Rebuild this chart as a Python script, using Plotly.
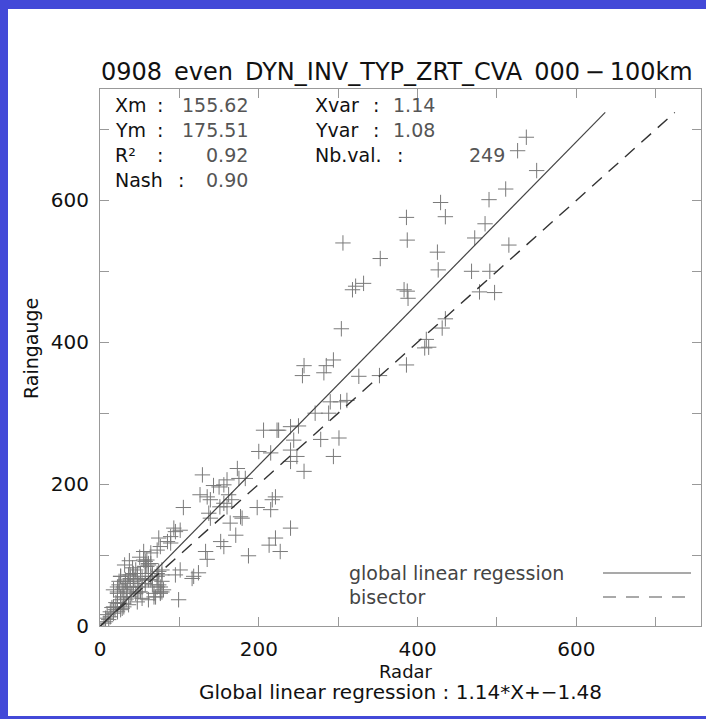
import plotly.graph_objects as go

# ---- data ----
radar = [537, 526, 550, 511, 490, 429, 435, 386, 485, 306, 387, 472, 425, 515, 353,
         426, 468, 491, 318, 322, 332, 383, 387, 388, 478, 497, 304, 435, 431, 411,
         409, 414, 386, 257, 255, 285, 282, 294, 326, 352,
         290, 303, 288, 311, 271, 301, 278, 294, 257, 248, 240, 240, 244, 240, 250,
         225, 223, 206, 200, 215, 217, 221, 215, 198, 240, 221, 213, 227, 187, 173,
         175, 183, 160, 156, 150, 143, 129, 162, 166, 156, 151, 160, 137, 139, 126,
         135, 139, 105, 171, 164, 177, 179, 152, 156, 133, 135, 124, 118, 116, 101,
         95, 99, 93, 101, 95, 89, 85, 89, 74, 76, 72, 78, 78, 72, 76, 64, 59, 61,
         57, 55, 68, 26, 24, 22, 22, 30, 34, 38, 42, 32, 47, 51, 45, 38, 30, 26, 22,
         17, 13, 9, 7, 17, 19, 30, 28, 45, 51, 47, 42, 36, 38, 66, 61, 53, 78, 74,
         64, 59, 57, 64, 66, 72, 74, 80, 76, 70, 61, 53, 47, 36, 30, 26, 22, 13, 11,
         7, 5, 40, 49, 53, 57, 26, 32, 38, 17, 22, 26, 34, 42, 49, 57, 66, 72, 76,
         78, 68, 64, 57, 61, 55, 47, 35, 28, 44, 20, 15, 33, 41, 50, 24, 31, 37]
gauge = [689, 670, 642, 616, 601, 597, 577, 576, 567, 540, 544, 547, 527, 537, 518,
         502, 500, 500, 474, 479, 483, 474, 472, 462, 471, 470, 419, 433, 420, 404,
         392, 393, 368, 367, 353, 367, 357, 375, 352, 353,
         316, 316, 300, 318, 300, 265, 263, 239, 218, 239, 232, 248, 262, 281, 282,
         276, 276, 276, 246, 244, 178, 182, 164, 167, 138, 124, 114, 105, 99, 222,
         208, 208, 206, 199, 196, 198, 213, 185, 178, 173, 168, 168, 159, 152, 185,
         182, 178, 167, 128, 145, 154, 152, 119, 112, 105, 94, 75, 70, 67, 79,
         72, 37, 138, 135, 133, 117, 119, 126, 124, 112, 107, 79, 72, 55, 48, 103, 93, 86,
         84, 105, 41, 70, 63, 55, 48, 55, 51, 55, 63, 63, 55, 48, 46, 41, 41, 37, 32,
         27, 20, 16, 11, 18, 23, 32, 25, 79, 74, 70, 74, 72, 67, 58, 65, 67, 63, 58,
         70, 84, 91, 88, 74, 70, 77, 51, 46, 41, 37, 39, 34, 30, 27, 23, 20, 13, 9,
         6, 4, 46, 48, 55, 60, 70, 65, 72, 51, 46, 41, 48, 55, 60, 65, 70, 74, 55,
         48, 46, 65, 84, 88, 93, 74, 60, 52, 66, 33, 26, 38, 82, 97, 58, 86, 92]

slope = 1.14
intercept = -1.48
data_max = 724
axis_max = 757
tick_vals = [0, 200, 400, 600]

stats_left = [("Xm", "155.62"), ("Ym", "175.51"), ("R²", "0.92"), ("Nash", "0.90")]
stats_right = [("Xvar", "1.14"), ("Yvar", "1.08"), ("Nb.val.", "249")]

title_text = "0908\u2002even\u2002DYN_INV_TYP_ZRT_CVA\u2002000\u2009\u2212\u2009100km"
xlabel = "Radar"
ylabel = "Raingauge"
subtitle = "Global linear regression : 1.14*X+\u22121.48"
legend_labels = ["global linear regession", "bisector"]

# ---- layout geometry ----
W, H = 706, 719
L, R, T, B = 100, 5, 89, 93
PW, PH = W - L - R, H - T - B


def px(xp):
    return (xp - L) / PW


def py(yp):
    return (T + PH - yp) / PH


FONT = "DejaVu Sans"
GRAY = "#7a7a7a"
AX = "#999999"

fig = go.Figure()

fig.add_trace(go.Scatter(
    x=radar, y=gauge, mode="markers",
    marker=dict(symbol="cross-thin", size=11, line=dict(width=1, color=GRAY), color=GRAY),
    showlegend=False, hoverinfo="skip"))

reg_xend = (data_max - intercept) / slope
fig.add_trace(go.Scatter(
    x=[0, reg_xend], y=[intercept, slope * reg_xend + intercept], mode="lines",
    line=dict(color="#444444", width=1.2), showlegend=False, hoverinfo="skip"))
fig.add_trace(go.Scatter(
    x=[0, data_max], y=[0, data_max], mode="lines",
    line=dict(color="#333333", width=1.4, dash="13px,9px"), showlegend=False, hoverinfo="skip"))

axis_common = dict(
    range=[0, axis_max], tickvals=tick_vals, ticks="inside", ticklen=9, tickwidth=1,
    tickcolor=AX, showline=True, linecolor=AX, linewidth=1, mirror="ticks",
    showgrid=False, zeroline=False,
    minor=dict(dtick=100, tick0=0, ticks="inside", ticklen=9, tickcolor=AX, showgrid=False),
    tickfont=dict(family=FONT, size=20, color="#111111"),
)

fig.update_layout(
    width=W, height=H, margin=dict(l=L, r=R, t=T, b=B),
    paper_bgcolor="white", plot_bgcolor="white",
    xaxis=dict(**axis_common, ticklabelstandoff=5),
    yaxis=dict(**axis_common, ticklabelstandoff=6),
    showlegend=False,
)

ann = []


def txt(x, y, s, anchor="left", size=19, color="#111111", angle=0):
    ann.append(dict(x=px(x), y=py(y), text=s, xanchor=anchor, yanchor="middle",
                    textangle=angle, font=dict(family=FONT, size=size, color=color),
                    showarrow=False, xref="paper", yref="paper"))


txt(99, 72, title_text, size=24)
rows_y = [105, 130, 155, 180]
colon_left = [160, 160, 160, 181]
for (lab, val), yy, cx in zip(stats_left, rows_y, colon_left):
    txt(113, yy, lab)
    txt(cx, yy, ":", anchor="center")
    txt(250, yy, val, anchor="right", color="#555555")
colon_right = [376, 376, 400]
for i, ((lab, val), yy, cx) in enumerate(zip(stats_right, rows_y, colon_right)):
    txt(313, yy, lab)
    txt(cx, yy, ":", anchor="center")
    if i < 2:
        txt(391, yy, val, color="#555555")
    else:
        txt(507, yy, val, anchor="right", color="#555555")
txt(347, 573, legend_labels[0], color="#444444")
txt(347, 597, legend_labels[1], color="#444444")
txt(406, 671, xlabel, anchor="center", size=18)
txt(400, 692, subtitle, anchor="center", size=20)
txt(31, 349, ylabel, anchor="center", angle=-90)
fig.update_layout(annotations=ann)

BLUE = "#4349d8"
shapes = [
    dict(type="line", x0=px(603), x1=px(691), y0=py(573), y1=py(573),
         line=dict(color="#555555", width=1.2)),
    dict(type="line", x0=px(603), x1=px(691), y0=py(597), y1=py(597),
         line=dict(color="#555555", width=1.2, dash="13px,10px")),
    dict(type="rect", x0=px(0), x1=px(706), y0=py(0), y1=py(9), fillcolor=BLUE,
         line=dict(width=0), layer="above"),
    dict(type="rect", x0=px(0), x1=px(8), y0=py(0), y1=py(719), fillcolor=BLUE,
         line=dict(width=0), layer="above"),
    dict(type="rect", x0=px(0), x1=px(706), y0=py(716), y1=py(719), fillcolor=BLUE,
         line=dict(width=0), layer="above"),
]
for s in shapes:
    s["xref"] = "paper"
    s["yref"] = "paper"
fig.update_layout(shapes=shapes)

fig.write_html("out.html", config={"displayModeBar": False},
               post_script="document.body.style.margin='0';document.body.style.overflow='hidden';")
